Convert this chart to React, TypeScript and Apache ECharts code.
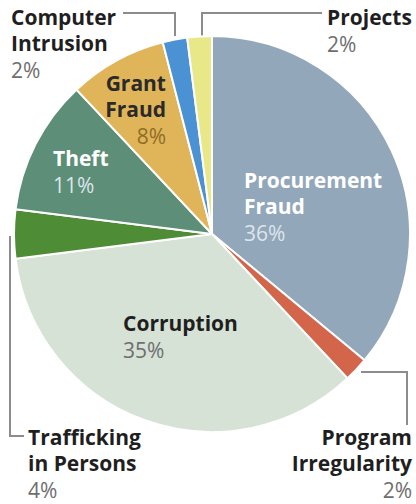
import React, { useEffect, useRef } from "react";
import * as echarts from "echarts";

const categories = [
  "Procurement\nFraud",
  "Program\nIrregularity",
  "Corruption",
  "Trafficking\nin Persons",
  "Theft",
  "Grant\nFraud",
  "Computer\nIntrusion",
  "Projects",
];
const shares = [36, 2, 35, 4, 11, 8, 2, 2];

const sliceColors = ["#93a7bb", "#d3664a", "#d7e2d6", "#4f8c36", "#5c8e78", "#e0b55a", "#4a92d4", "#e8e888"];
const labelPlacement: [number, number, string][] = [
  [244, 167, "left"],
  [412, 424, "right"],
  [123, 310, "left"],
  [28, 424, "left"],
  [53, 145, "left"],
  [166, 70, "right"],
  [11, 4, "left"],
  [327, 4, "left"],
];
const labelTone = ["L", "D", "D", "D", "L", "G", "D", "D"];

const FONT = "'Open Sans', 'DejaVu Sans', sans-serif";

export default function App() {
  const ref = useRef<HTMLDivElement>(null);
  useEffect(() => {
    document.body.style.margin = "0";
    if (!ref.current) return;
    const chart = echarts.init(ref.current, null, { renderer: "svg" });
    const nameStyle = (color: string) => ({ fontFamily: FONT, fontWeight: "bold" as const, fontSize: 21, lineHeight: 26, color });
    const pctStyle = (color: string) => ({ fontFamily: FONT, fontWeight: "normal" as const, fontSize: 21, lineHeight: 28, color });
    const lineStyle = { stroke: "#8c8c8c", lineWidth: 2, fill: "none" };
    chart.setOption({
      animation: false,
      backgroundColor: "#ffffff",
      series: [
        {
          type: "pie",
          center: [212, 234],
          radius: 198,
          startAngle: 90,
          clockwise: true,
          avoidLabelOverlap: false,
          silent: true,
          itemStyle: { borderColor: "#ffffff", borderWidth: 2 },
          label: {
            show: true,
            position: "inside",
            formatter: (p: any) => {
              const t = labelTone[p.dataIndex];
              const lines = String(p.name)
                .split("\n")
                .map((l) => `{n${t}|${l}}`)
                .join("\n");
              return `${lines}\n{p${t}|${p.value}%}`;
            },
            rich: {
              nD: nameStyle("#1f1f1f"),
              pD: pctStyle("#6e6e6e"),
              nL: nameStyle("#ffffff"),
              pL: pctStyle("#dde5ec"),
              nG: nameStyle("#2a2a2a"),
              pG: pctStyle("#8f6d28"),
            },
          },
          labelLine: { show: false },
          labelLayout: (params: any) => {
            const pl = labelPlacement[params.dataIndex];
            return { x: pl[0], y: pl[1], align: pl[2], verticalAlign: "top" };
          },
          data: categories.map((name, i) => ({
            name,
            value: shares[i],
            itemStyle: { color: sliceColors[i] },
          })),
        },
      ],
      graphic: [
        { type: "polyline", shape: { points: [[123, 13], [175, 13], [175, 36]] }, style: lineStyle },
        { type: "polyline", shape: { points: [[202, 36], [202, 13], [322, 13]] }, style: lineStyle },
        { type: "polyline", shape: { points: [[361, 372], [407, 372], [407, 425]] }, style: lineStyle },
        { type: "polyline", shape: { points: [[10, 236], [10, 436], [24, 436]] }, style: lineStyle },
      ],
    });
    return () => chart.dispose();
  }, []);
  return <div ref={ref} style={{ width: 416, height: 504 }} />;
}
